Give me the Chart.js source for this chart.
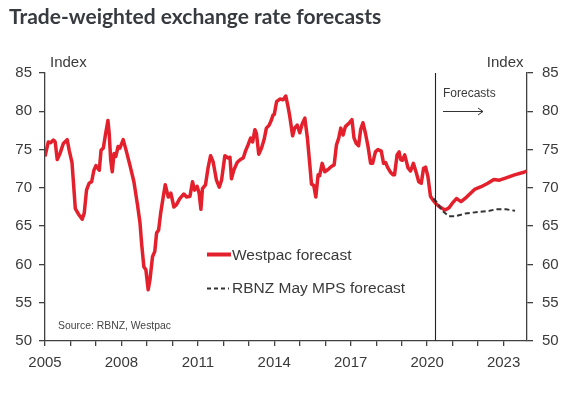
<!DOCTYPE html>
<html>
<head>
<meta charset="utf-8">
<script src="https://cdn.jsdelivr.net/npm/chart.js@4.4.1/dist/chart.umd.min.js"></script>
<style>
  html, body { margin: 0; padding: 0; background: #fff; }
  #wrap { width: 588px; height: 397px; position: relative; }
</style>
</head>
<body>
<div id="wrap"><canvas id="c" width="588" height="397"></canvas></div>
<script>
// ---- Data ----
const titleText = "Trade-weighted exchange rate forecasts";
const westpacLabel = "Westpac forecast";
const rbnzLabel = "RBNZ May MPS forecast";
const sourceText = "Source: RBNZ, Westpac";
const forecastStart = 2020.31;
const xMin = 2005, xMax = 2023.92;
const yTicks = [50, 55, 60, 65, 70, 75, 80, 85];
const xTickLabels = [2005, 2008, 2011, 2014, 2017, 2020, 2023];

const westpacYears = [
  2005.00,2005.13,2005.22,2005.33,2005.40,2005.48,2005.59,2005.72,2005.87,2005.95,
  2006.06,2006.11,2006.19,2006.31,2006.46,2006.54,2006.63,2006.73,2006.83,2006.92,
  2007.00,2007.13,2007.20,2007.29,2007.38,2007.47,2007.52,2007.58,2007.64,2007.71,
  2007.78,2007.87,2007.94,2008.07,2008.20,2008.33,2008.49,2008.63,2008.73,2008.79,
  2008.88,2008.96,2009.05,2009.12,2009.22,2009.31,2009.38,2009.46,2009.54,2009.64,
  2009.72,2009.84,2009.94,2010.06,2010.16,2010.29,2010.45,2010.56,2010.69,2010.79,
  2010.87,2010.97,2011.05,2011.12,2011.18,2011.30,2011.40,2011.50,2011.60,2011.73,
  2011.84,2011.93,2012.06,2012.19,2012.26,2012.32,2012.41,2012.54,2012.67,2012.78,
  2012.88,2012.97,2013.07,2013.15,2013.24,2013.30,2013.39,2013.50,2013.60,2013.69,
  2013.80,2013.89,2013.95,2014.00,2014.09,2014.22,2014.35,2014.45,2014.54,2014.60,
  2014.72,2014.80,2014.90,2015.00,2015.10,2015.20,2015.30,2015.39,2015.46,2015.55,
  2015.63,2015.72,2015.78,2015.88,2015.98,2016.11,2016.24,2016.35,2016.44,2016.53,
  2016.61,2016.70,2016.79,2016.92,2017.05,2017.13,2017.22,2017.31,2017.39,2017.48,
  2017.58,2017.68,2017.78,2017.86,2017.97,2018.07,2018.20,2018.29,2018.37,2018.46,
  2018.57,2018.66,2018.72,2018.82,2018.90,2018.96,2019.03,2019.12,2019.25,2019.35,
  2019.46,2019.58,2019.67,2019.77,2019.86,2019.94,2020.03,2020.13,2020.23,2020.33,
  2020.46,2020.60,2020.71,2020.86,2020.99,2021.15,2021.33,2021.55,2021.86,2022.12,
  2022.38,2022.62,2022.84,2023.10,2023.43,2023.76,2023.91
];
const westpacValues = [
  74.1,76.0,75.9,76.25,76.0,73.7,74.5,75.8,76.3,74.9,
  73.3,71.0,67.3,66.6,65.9,66.7,69.7,70.6,70.8,72.3,
  72.9,72.3,74.9,75.2,77.1,78.8,77.1,73.6,72.1,74.5,
  74.1,75.4,75.2,76.3,74.7,73.0,70.8,67.8,65.4,62.8,
  59.7,59.3,56.7,58.0,61.0,61.7,64.1,64.5,66.7,68.8,
  70.4,68.8,69.3,67.5,67.8,68.6,69.2,68.8,68.9,70.8,
  69.7,70.2,69.3,67.2,69.9,70.4,72.6,74.2,73.4,71.0,
  70.1,71.0,74.2,73.9,74.0,71.2,72.3,73.3,73.7,73.9,
  74.9,75.6,76.5,76.0,77.6,77.1,74.4,75.2,76.3,77.8,
  78.2,78.9,79.5,79.6,81.25,81.6,81.5,82.0,80.6,79.5,
  76.8,77.8,78.2,77.2,78.4,79.1,76.5,73.2,70.5,70.3,
  68.8,71.7,71.6,73.2,72.1,72.4,72.8,73.0,75.6,76.5,
  77.8,76.9,78.0,78.4,78.9,76.5,75.8,75.5,77.6,78.5,
  77.1,75.4,73.2,73.2,74.7,75.0,74.8,73.2,73.3,72.6,
  72.0,71.7,71.7,74.3,74.7,73.7,73.6,74.3,72.6,72.2,
  73.2,71.9,70.8,70.6,72.55,72.7,71.5,68.9,68.4,68.0,
  67.6,67.3,67.1,67.4,68.0,68.6,68.2,68.8,69.8,70.15,
  70.6,71.1,71.0,71.3,71.7,72.0,72.2
];

const rbnzYears  = [2020.25, 2020.42, 2020.56, 2020.85, 2021.10, 2021.50, 2022.00, 2022.45, 2022.70, 2023.10, 2023.45];
const rbnzValues = [68.6,    68.0,    67.1,    66.3,    66.3,    66.65,   66.85,   67.0,    67.2,    67.2,    67.0];

// ---- Styling ----
const RED = '#e3202b';
const INK = '#3a3a3a';
const AXIS = '#404040';

const toPts = (xs, ys) => xs.map((x, i) => ({ x: x, y: ys[i] }));

const overlay = {
  id: 'overlay',
  afterDatasetsDraw(chart) {
    const ctx = chart.ctx;
    const xs = chart.scales.x;
    const ca = chart.chartArea;
    ctx.save();
    // forecast divider
    const fx = Math.round(xs.getPixelForValue(forecastStart)) + 0.5;
    ctx.strokeStyle = '#222';
    ctx.lineWidth = 1.1;
    ctx.beginPath();
    ctx.moveTo(fx, ca.top);
    ctx.lineTo(fx, ca.bottom);
    ctx.stroke();
    ctx.restore();
  },
  afterDraw(chart) {
    const ctx = chart.ctx;
    ctx.save();
    // title
    ctx.fillStyle = '#373b40';
    ctx.font = 'bold 21px Lato';
    ctx.textBaseline = 'alphabetic';
    ctx.textAlign = 'left';
    ctx.fillText(titleText, 9, 24);

    // axis unit labels
    ctx.fillStyle = INK;
    ctx.font = '15px "Liberation Sans", Arial, sans-serif';
    ctx.fillText('Index', 50, 66.5);
    ctx.textAlign = 'right';
    ctx.fillText('Index', 523.5, 66.5);

    // Forecasts note + arrow
    ctx.textAlign = 'left';
    ctx.font = '12px "Liberation Sans", Arial, sans-serif';
    ctx.fillText('Forecasts', 443, 96.5);
    ctx.strokeStyle = '#333';
    ctx.lineWidth = 1;
    ctx.beginPath();
    ctx.moveTo(443, 111.5); ctx.lineTo(483, 111.5);
    ctx.moveTo(478, 108); ctx.lineTo(483, 111.5); ctx.lineTo(478, 115);
    ctx.stroke();

    // legend
    ctx.strokeStyle = RED;
    ctx.lineWidth = 4;
    ctx.beginPath();
    ctx.moveTo(207, 254.5); ctx.lineTo(231, 254.5);
    ctx.stroke();
    ctx.strokeStyle = '#333';
    ctx.lineWidth = 2;
    ctx.setLineDash([4, 3]);
    ctx.beginPath();
    ctx.moveTo(207, 288.5); ctx.lineTo(229, 288.5);
    ctx.stroke();
    ctx.setLineDash([]);
    ctx.fillStyle = INK;
    ctx.font = '15.5px "Liberation Sans", Arial, sans-serif';
    ctx.fillText(westpacLabel, 232, 259.5);
    ctx.fillText(rbnzLabel, 232, 293);

    // source
    ctx.font = '10.4px "Liberation Sans", Arial, sans-serif';
    ctx.fillStyle = '#444';
    ctx.fillText(sourceText, 58, 328.5);
    ctx.restore();
  }
};

const yAxisCommon = {
  type: 'linear',
  min: 50, max: 85,
  afterBuildTicks(s) { s.ticks = yTicks.map(v => ({ value: v })); },
  grid: { drawOnChartArea: false, drawTicks: true, tickLength: 6, color: AXIS, lineWidth: 1.3 },
  border: { display: true, color: AXIS, width: 1.3 },
  ticks: { color: INK, font: { family: '"Liberation Sans", Arial, sans-serif', size: 15 }, padding: 7 }
};

new Chart(document.getElementById('c'), {
  type: 'line',
  data: {
    datasets: [
      {
        label: rbnzLabel,
        data: toPts(rbnzYears, rbnzValues),
        borderColor: '#333',
        borderWidth: 2,
        borderDash: [5, 3],
        pointRadius: 0,
        tension: 0,
        order: 0
      },
      {
        label: westpacLabel,
        data: toPts(westpacYears, westpacValues),
        borderColor: RED,
        borderWidth: 3.5,
        pointRadius: 0,
        tension: 0,
        borderJoinStyle: 'round',
        order: 1
      }
    ]
  },
  options: {
    responsive: false,
    animation: false,
    devicePixelRatio: 1,
    layout: { padding: { top: 73, left: 0, right: 0, bottom: 0 } },
    plugins: { legend: { display: false }, tooltip: { enabled: false }, title: { display: false } },
    scales: {
      x: {
        type: 'linear',
        min: xMin, max: xMax,
        afterBuildTicks(s) {
          const t = [];
          for (let v = 2005; v <= 2023; v++) t.push({ value: v });
          s.ticks = t;
        },
        afterFit(s) { s.height = 56; },
        grid: { drawOnChartArea: false, tickLength: 5, color: AXIS, lineWidth: 1.3 },
        border: { display: true, color: AXIS, width: 1.3 },
        ticks: {
          color: INK,
          autoSkip: false,
          maxRotation: 0,
          padding: 8,
          font: { family: '"Liberation Sans", Arial, sans-serif', size: 15 },
          callback: (v) => xTickLabels.includes(v) ? String(v) : ''
        }
      },
      y: Object.assign({}, yAxisCommon, {
        position: 'left',
        afterFit(s) { s.width = 45; }
      }),
      y2: Object.assign({}, yAxisCommon, {
        position: 'right',
        ticks: Object.assign({}, yAxisCommon.ticks, { padding: 9 }),
        afterFit(s) { s.width = 61; }
      })
    }
  },
  plugins: [overlay]
});
</script>
</body>
</html>
